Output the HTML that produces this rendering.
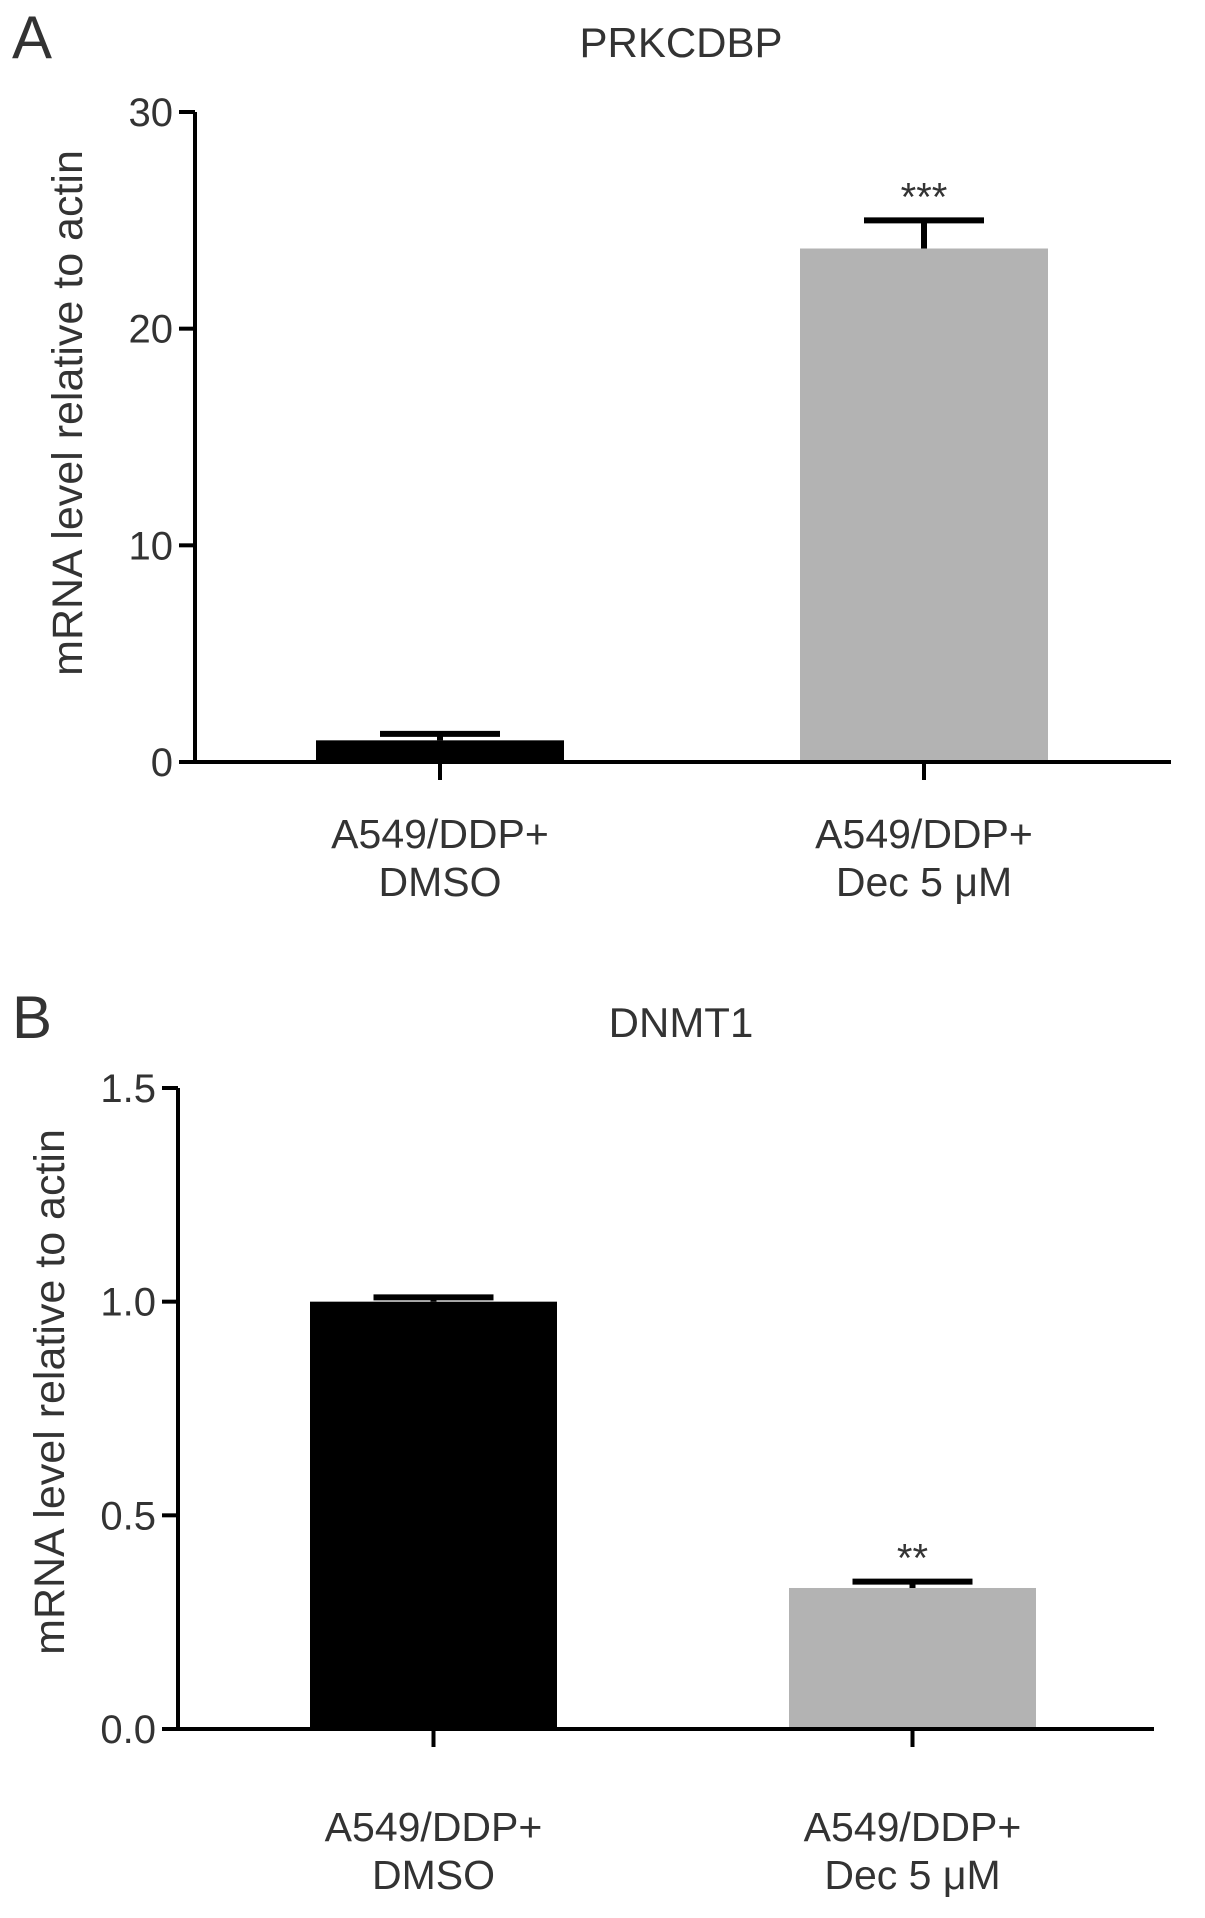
<!DOCTYPE html>
<html><head><meta charset="utf-8"><style>
body{margin:0;background:#fff}
svg{display:block}
text{font-family:"Liberation Sans",sans-serif;fill:#333}
</style></head><body>
<svg id="fig" width="1205" height="1918" viewBox="0 0 1205 1918"></svg>
<script>
const categories = ["A549/DDP+|DMSO", "A549/DDP+|Dec 5 \u03bcM"];
const valuesA = [1.0, 23.7];
const errorsA = [0.3, 1.3];
const ticksA = [0, 10, 20, 30];
const valuesB = [1.0, 0.33];
const errorsB = [0.01, 0.015];
const ticksB = ["0.0", "0.5", "1.0", "1.5"];
const colors = ["#000", "#b3b3b3"];

const NS = "http://www.w3.org/2000/svg";
const svg = document.getElementById("fig");
function mk(tag, attrs, parent) {
  const e = document.createElementNS(NS, tag);
  for (const k in attrs) e.setAttribute(k, attrs[k]);
  (parent || svg).appendChild(e);
  return e;
}
function panel(cfg) {
  const g = mk("g", {});
  
  
  const yS = v => cfg.y0 + (cfg.yTop - cfg.y0) * (v / cfg.max);
  const letter = mk("text", {x: cfg.letterX, y: cfg.letterY, "font-size": 60, fill: "#222"}, g);
  letter.textContent = cfg.letter;
  
  
  const title = mk("text", {x: 681, y: cfg.titleY, "font-size": 42, "text-anchor": "middle"}, g);
  title.textContent = cfg.title;
  
  
  cfg.values.forEach((v, i) => {
    const bx = cfg.barX[i];
    const r = mk("rect", {x: bx, y: yS(v), width: cfg.barW, height: cfg.y0 - yS(v), fill: colors[i]}, g);
    
    
    const cx = bx + cfg.barW / 2, top = yS(v + cfg.errors[i]);
    const eb = mk("path", {d: `M${cx} ${yS(v)}V${top}M${cx - 60} ${top}H${cx + 60}`, stroke: "#000", "stroke-width": 6, fill: "none"}, g);
    
    
    if (cfg.sig[i]) {
      const s = mk("text", {x: cx, y: top - 10, "font-size": 40, "text-anchor": "middle"}, g);
      s.textContent = cfg.sig[i];
      
      
    }
    const tk = mk("line", {x1: cx, x2: cx, y1: cfg.y0, y2: cfg.y0 + 18, stroke: "#000", "stroke-width": 4}, g);
    
    
    const parts = categories[i].split("|");
    parts.forEach((p, j) => {
      const t = mk("text", {x: cx, y: cfg.y0 + cfg.labOff + j * 48, "font-size": 41, "text-anchor": "middle"}, g);
      t.textContent = p;
      
      
    });
  });
  const ax = mk("path", {d: `M${cfg.axisX} ${cfg.yTop}V${cfg.y0}H${cfg.axisEnd}`, stroke: "#000", "stroke-width": 4, fill: "none"}, g);
  
  
  cfg.ticks.forEach(tv => {
    const y = yS(parseFloat(tv));
    const l = mk("line", {x1: cfg.axisX - 16, x2: cfg.axisX, y1: y, y2: y, stroke: "#000", "stroke-width": 4}, g);
    
    
    const t = mk("text", {x: cfg.axisX - 22, y: y + 14, "font-size": 40, "text-anchor": "end"}, g);
    t.textContent = tv;
    
    
  });
  const yl = mk("text", {x: 0, y: 0, "font-size": 43, "text-anchor": "middle", transform: `translate(${cfg.ylX},${cfg.ylY}) rotate(-90)`}, g);
  yl.textContent = "mRNA level relative to actin";
  
  
}
panel({name: "panel-a", letter: "A", letterX: 12, letterY: 58, title: "PRKCDBP", titleY: 57,
  values: valuesA, errors: errorsA, ticks: ticksA, max: 30, y0: 762, yTop: 112, axisX: 195, axisEnd: 1171,
  barX: [316, 800], barW: 248, sig: ["", "***"], ylX: 82, ylY: 413, labOff: 86});
panel({name: "panel-b", letter: "B", letterX: 12, letterY: 1038, title: "DNMT1", titleY: 1037,
  values: valuesB, errors: errorsB, ticks: ticksB, max: 1.5, y0: 1729, yTop: 1088, axisX: 178, axisEnd: 1154,
  barX: [310, 789], barW: 247, sig: ["", "**"], ylX: 64, ylY: 1392, labOff: 112});
</script>
</body></html>
